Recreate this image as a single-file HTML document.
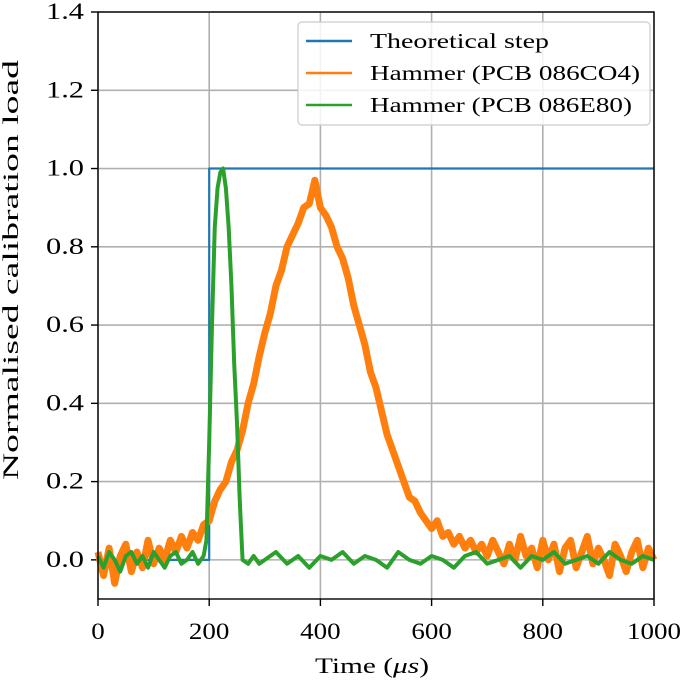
<!DOCTYPE html>
<html><head><meta charset="utf-8"><style>
body{margin:0;background:#fff;}
svg, svg text{font-family:"Liberation Serif","DejaVu Serif",serif;}
</style></head><body>
<svg id="chart" width="685" height="682" xmlns="http://www.w3.org/2000/svg" font-family="Liberation Serif, DejaVu Serif, serif"></svg>
<script>
const xTicks=[0,200,400,600,800,1000];
const yTicks=[0.0,0.2,0.4,0.6,0.8,1.0,1.2,1.4];
const orangeT=[0,10,20,30,40,50,60,70,80,90,100,110,120,130,140,150,160,170,180,190,200,210,220,230,240,250,260,270,280,290,300,310,320,330,340,350,360,370,380,390,400,410,420,430,440,450,460,470,480,490,500,510,520,530,540,550,560,570,580,590,600,610,620,630,640,650,660,670,680,690,700,710,720,730,740,750,760,770,780,790,800,810,820,830,840,850,860,870,880,890,900,910,920,930,940,950,960,970,980,990,1000];
const orangeV=[0.02,-0.04,0.03,-0.06,0.01,0.04,-0.03,0.02,-0.02,0.05,-0.01,0.03,0.0,0.05,0.02,0.06,0.03,0.07,0.05,0.09,0.1,0.15,0.18,0.2,0.25,0.28,0.33,0.4,0.45,0.52,0.58,0.63,0.7,0.74,0.8,0.83,0.86,0.9,0.91,0.97,0.9,0.88,0.85,0.8,0.77,0.72,0.65,0.6,0.55,0.48,0.44,0.38,0.32,0.28,0.24,0.2,0.16,0.15,0.12,0.1,0.08,0.1,0.06,0.07,0.04,0.06,0.03,0.05,0.02,0.04,0.01,0.05,0.02,-0.01,0.04,0.0,0.06,0.01,0.03,-0.02,0.05,0.0,0.04,-0.03,0.03,0.05,-0.02,0.02,0.06,-0.01,0.03,0.0,-0.04,0.04,0.01,-0.03,0.02,0.05,-0.02,0.03,0.0];
const greenT=[0,10,20,30,40,50,60,70,80,90,100,110,120,130,140,150,160,170,180,190,195,200,205,210,215,220,225,230,235,240,245,250,255,260,270,280,290,300,320,340,360,380,400,420,440,460,480,500,520,540,560,580,600,620,640,660,680,700,720,740,760,780,800,820,840,860,880,900,920,940,960,980,1000];
const greenV=[0.01,-0.02,0.02,0.0,-0.03,0.01,0.02,-0.01,0.01,-0.02,0.02,0.0,-0.02,0.01,0.02,-0.01,0.0,0.02,-0.01,0.01,0.05,0.3,0.6,0.85,0.95,0.99,1.0,0.95,0.85,0.7,0.5,0.35,0.15,0.0,-0.01,0.01,-0.01,0.0,0.02,-0.01,0.01,-0.02,0.01,0.0,0.02,-0.01,0.01,0.0,-0.02,0.02,0.0,-0.01,0.01,0.0,-0.02,0.01,0.02,-0.01,0.0,0.01,-0.02,0.01,0.0,0.02,-0.01,0.0,0.01,-0.01,0.02,0.0,-0.01,0.01,0.0];
const stepT=[0,200,200,1000];
const stepV=[0,0,1,1];

const L=98,R=654,T=12,B=599;
const sx=t=>L+(t-0)/(1000)*(R-L);
const sy=v=>B-(v+0.1)/(1.5)*(B-T);
const svg=document.getElementById('chart');
const NS='http://www.w3.org/2000/svg';
const FF='Liberation Serif, DejaVu Serif, serif';
function mk(tag,attrs,parent){const e=document.createElementNS(NS,tag);for(const k in attrs)e.setAttribute(k,attrs[k]);if(tag==='text')e.setAttribute('font-family',FF);(parent||svg).appendChild(e);return e;}

xTicks.forEach(t=>{
  const g=mk('line',{x1:sx(t),x2:sx(t),y1:T,y2:B,stroke:'#b0b0b0','stroke-width':1.6});
  
  
  mk('line',{x1:sx(t),x2:sx(t),y1:B,y2:B+7,stroke:'#000','stroke-width':1.4});
  const s=String(t);
  const tx=mk('text',{x:sx(t),y:B+40,'text-anchor':'middle','font-size':23,textLength:s.length*13.5,lengthAdjust:'spacingAndGlyphs'});
  tx.textContent=s;
  
  
});
yTicks.forEach(v=>{
  const g=mk('line',{x1:L,x2:R,y1:sy(v),y2:sy(v),stroke:'#b0b0b0','stroke-width':1.6});
  
  
  mk('line',{x1:L-7,x2:L,y1:sy(v),y2:sy(v),stroke:'#000','stroke-width':1.4});
  const tx=mk('text',{x:L-14,y:sy(v)+7,'text-anchor':'end','font-size':23,textLength:38,lengthAdjust:'spacingAndGlyphs'});
  tx.textContent=v.toFixed(1);
  
  
});
function line(ts,vs,color,w,name){
  const p=mk('polyline',{points:ts.map((t,i)=>sx(t)+','+sy(vs[i])).join(' '),fill:'none',stroke:color,'stroke-width':w,'stroke-linejoin':'round'});
  
  
}
line(stepT,stepV,'#1f77b4',2.2,'theoretical-step-line');
line(orangeT,orangeV,'#ff7f0e',7,'hammer-086c04-line');
line(greenT,greenV,'#2ca02c',4,'hammer-086e80-line');

const fr=mk('rect',{x:L,y:T,width:R-L,height:B-T,fill:'none',stroke:'#000','stroke-width':1.4});



const lg=mk('g',{});


mk('rect',{x:298,y:22,width:352,height:103,rx:4,fill:'#fff','fill-opacity':0.85,stroke:'#ccc','stroke-width':1.2},lg);
[['Theoretical step','#1f77b4',179],['Hammer (PCB 086CO4)','#ff7f0e',270],['Hammer (PCB 086E80)','#2ca02c',262]].forEach((e,i)=>{
  const y=41+i*32;
  mk('line',{x1:306,x2:352,y1:y,y2:y,stroke:e[1],'stroke-width':2.6},lg);
  const tx=mk('text',{x:370,y:y+7,'font-size':21,textLength:e[2],lengthAdjust:'spacingAndGlyphs'},lg);
  tx.textContent=e[0];
  
  
});

const xl=mk('text',{x:372,y:673,'text-anchor':'middle','font-size':22,textLength:114,lengthAdjust:'spacingAndGlyphs'});
xl.innerHTML='Time (<tspan font-style="italic">μs</tspan>)';


const yl=mk('text',{x:0,y:0,'text-anchor':'middle','font-size':22,textLength:420,lengthAdjust:'spacingAndGlyphs',transform:'translate(18,270) rotate(-90)'});
yl.textContent='Normalised calibration load';


</script>
</body></html>
